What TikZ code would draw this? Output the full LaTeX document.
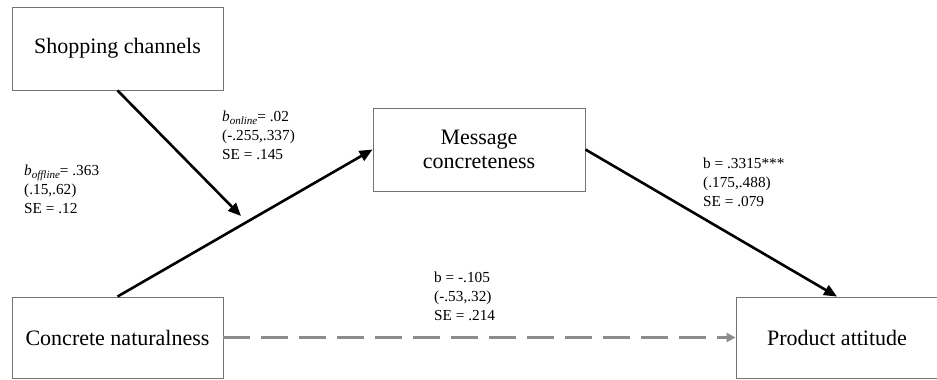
\documentclass[tikz,border=0pt]{standalone}
\usepackage{fontspec}
\setmainfont{Liberation Serif}
\usetikzlibrary{arrows.meta}
\begin{document}
\begin{tikzpicture}[x=1pt,y=-1pt,
  varbox/.style={draw=black!55, line width=0.9pt, rectangle, inner sep=0pt, align=center,
    font=\fontsize{22}{24}\selectfont},
  coef/.style={align=left, anchor=west, inner sep=0pt, font=\fontsize{15.3}{19}\selectfont},
  patharrow/.style={line width=2.6pt, -{Triangle[length=13pt,width=11pt]}},
  directarrow/.style={line width=2.8pt, draw=black!45, dash pattern=on 27pt off 11pt,
    -{Triangle[length=9pt,width=9pt]}}]
\useasboundingbox (0,0) rectangle (937,380);
\node[varbox, minimum width=211pt, minimum height=83pt] (shop) at (117.5,48.5) {Shopping channels};
\node[varbox, minimum width=212pt, minimum height=83pt] (msg) at (479,149.5) {Message\\concreteness};
\node[varbox, minimum width=211pt, minimum height=81pt] (nat) at (117.5,337.5) {Concrete naturalness};
\node[varbox, minimum width=202pt, minimum height=81pt] (prod) at (837,337.5) {Product attitude};
\coordinate (mod) at (241,216);
\draw[patharrow] (shop.south) -- (mod);
\draw[patharrow] (nat.north) -- (msg.west);
\draw[patharrow] (msg.east) -- (prod.north);
\draw[directarrow] (nat.east) -- (prod.west);
\node[coef] (loff) at (24,189) {\textit{b}\raisebox{-.45ex}{\fontsize{11}{11}\selectfont\textit{offline}}= .363\\(.15,.62)\\SE = .12};
\node[coef] (lon) at (222,135) {\textit{b}\raisebox{-.45ex}{\fontsize{11}{11}\selectfont\textit{online}}= .02\\(-.255,.337)\\SE = .145};
\node[coef] (lb) at (703,182) {b = .3315***\\(.175,.488)\\SE = .079};
\node[coef] (lc) at (434,296) {b = -.105\\(-.53,.32)\\SE = .214};
\end{tikzpicture}
\end{document}
